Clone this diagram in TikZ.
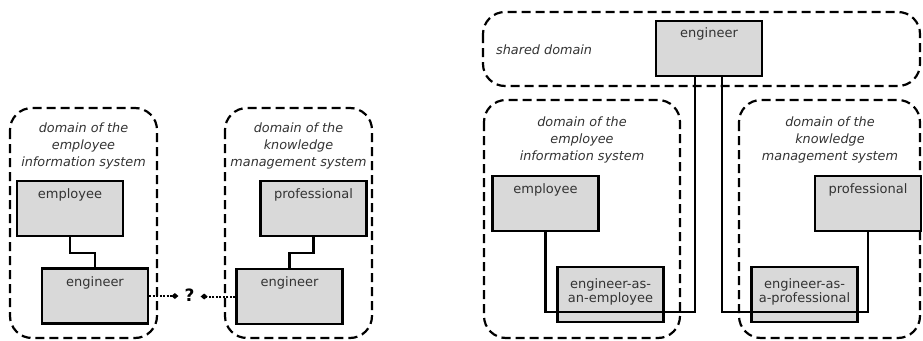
\documentclass[tikz,border=0pt]{standalone}
\usepackage{fontspec}
\setmainfont{DejaVu Sans}
\usetikzlibrary{arrows.meta}
\definecolor{boxgray}{HTML}{D9D9D9}
\definecolor{txtgray}{HTML}{333333}
\begin{document}
\begin{tikzpicture}[x=1pt,y=-1pt,
  domainbox/.style={draw=black, line width=2.2pt, dash pattern=on 9pt off 5pt, rounded corners=22pt},
  cls/.style={draw=black, line width=2.2pt, fill=boxgray, inner sep=0pt, minimum width=106pt, minimum height=55pt},
  lbl/.style={text=txtgray, inner sep=0pt, font=\fontsize{13}{14}\selectfont},
  mlbl/.style={text=txtgray, inner sep=0pt, align=center, font=\fontsize{13}{13.5}\selectfont},
  dlbl/.style={text=txtgray, inner sep=0pt, align=center, font=\fontsize{12.8}{17}\selectfont\itshape},
  link/.style={draw=black, line width=2.2pt},
  dotlink/.style={draw=black, line width=2pt, dash pattern=on 2pt off 1.5pt, -{Diamond[length=7pt,width=6pt]}, shorten >=6pt}
]
\useasboundingbox (0,0) rectangle (923,340);

% ---------- left diagram ----------
\draw[domainbox] (10,108) rectangle (157,338);
\draw[domainbox] (225,108) rectangle (372,338);
\node[dlbl] (d1t) at (83.5,146) {domain of the\\employee\\information system};
\node[dlbl] (d2t) at (298.5,146) {domain of the\\knowledge\\management system};

\node[cls] (emp1) at (70,208.5) {};
\node[lbl] (emp1t) at (70,195) {employee};
\node[cls] (eng1) at (95,296) {};
\node[lbl] (eng1t) at (95,283) {engineer};
\node[cls] (prof1) at (313.5,208.5) {};
\node[lbl] (prof1t) at (313.5,195) {professional};
\node[cls] (eng2) at (289.5,296.5) {};
\node[lbl] (eng2t) at (289.5,283) {engineer};

\draw[link] (emp1.south) -- ++(0,16) -| (eng1.north);
\draw[link] (prof1.south) -- ++(0,16) -| (eng2.north);

\node[text=black, inner sep=0pt, font=\fontsize{17}{17}\selectfont\bfseries] (q) at (189.5,295) {?};
\draw[dotlink] (eng1.east) -- (eng1.east -| q.west);
\draw[dotlink] (eng2.west) -- (eng2.west -| q.east);

% ---------- right diagram ----------
\draw[domainbox] (483,12) rectangle (920,86);
\draw[domainbox] (484,100) rectangle (680,338);
\draw[domainbox] (739,100) rectangle (920,338);
\node[dlbl, anchor=west] (sdt) at (496,50) {shared domain};
\node[dlbl] (d3t) at (582,140) {domain of the\\employee\\information system};
\node[dlbl] (d4t) at (830,140) {domain of the\\knowledge\\management system};

\node[cls] (engS) at (709,48.5) {};
\node[lbl] (engSt) at (709,34) {engineer};
\node[cls] (emp2) at (545.5,203.5) {};
\node[lbl] (emp2t) at (545.5,190) {employee};
\node[cls] (eaae) at (610.5,294.5) {};
\node[mlbl] (eaaet) at (610.5,292) {engineer-as-\\an-employee};
\node[cls] (prof2) at (868,203.5) {};
\node[lbl] (prof2t) at (868,190) {professional};
\node[cls] (eaap) at (804.5,294.5) {};
\node[mlbl] (eaapt) at (804.5,292) {engineer-as-\\a-professional};

\coordinate (j1) at (695,312);
\coordinate (j2) at (722,312);
\draw[link] (emp2.south) |- (j1) -- (j1 |- engS.south);
\draw[link] (j2 |- engS.south) -- (j2) -| (prof2.south);
\end{tikzpicture}
\end{document}
